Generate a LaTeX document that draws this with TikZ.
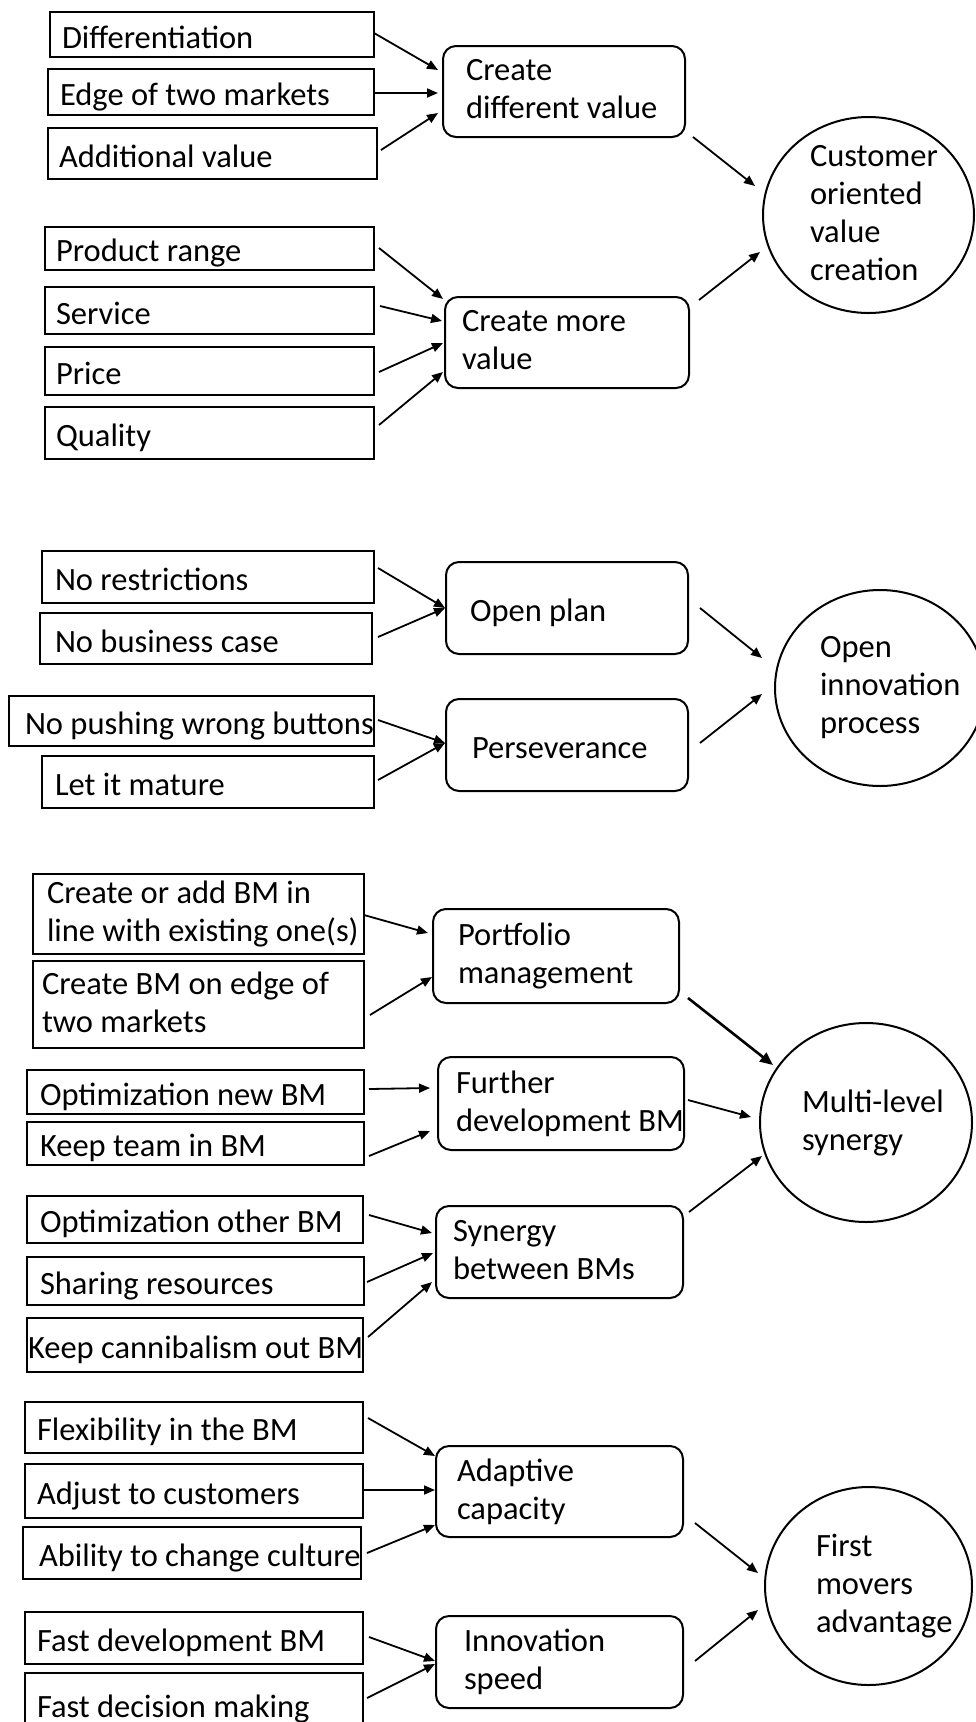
\documentclass[tikz,border=0pt]{standalone}
\usepackage{fontspec}
\setmainfont{Carlito}
\usetikzlibrary{arrows.meta,shapes.geometric}

\newcommand\mybox[6]{%
  \pgfmathsetmacro\mybw{#5-#3}%
  \pgfmathsetmacro\mybh{#6-#4}%
  \node[#1, minimum width=\mybw pt, minimum height=\mybh pt] (#2) at ({(#3+#5)/2},{(#4+#6)/2}) {};}
\newcommand\mytext[4]{\node[txt] (#1) at ([xshift=#3pt]#2.west) {#4};}
\newcommand\mystrut{\rule[-5pt]{0pt}{37pt}}

\begin{document}
\begin{tikzpicture}[x=1pt,y=-1pt,
  rbox/.style={draw, line width=1.9pt, inner sep=0pt, outer sep=0pt},
  rnd/.style={draw, line width=2pt, rounded corners=13pt, inner sep=0pt, outer sep=0pt},
  ell/.style={draw, ellipse, line width=2pt, inner sep=0pt, outer sep=0pt},
  txt/.style={inner sep=0pt, outer sep=0pt, anchor=west, align=left,
    font=\fontsize{32.5}{38}\selectfont,
    execute at begin node=\mystrut, execute at end node=\mystrut},
  arr/.style={line width=1.8pt, -{Triangle[length=11pt,width=9pt]}},
  thickarr/.style={line width=2.6pt, -{Triangle[length=13pt,width=11pt]}}]
\fill[white] (0,0) rectangle (975,1722);
\useasboundingbox (0,0) rectangle (975,1722);

% ---------- Section 1 ----------
\mybox{rbox}{d1}{50}{12}{374}{57}
\mybox{rbox}{d2}{48}{69}{374}{115}
\mybox{rbox}{d3}{48}{128}{377}{179}
\mybox{rbox}{m1}{45}{227}{374}{270}
\mybox{rbox}{m2}{45}{287}{374}{334}
\mybox{rbox}{m3}{45}{347}{374}{395}
\mybox{rbox}{m4}{45}{407}{374}{459}
\mybox{rnd}{D}{443}{46}{685}{137}
\mybox{rnd}{M}{445}{297}{689}{388}
\node[ell, minimum width=211pt, minimum height=196pt] (C1) at (868.5,215) {};

\mytext{d1t}{d1}{12}{Differentiation}
\mytext{d2t}{d2}{12}{Edge of two markets}
\mytext{d3t}{d3}{11}{Additional value}
\mytext{m1t}{m1}{11}{Product range}
\mytext{m2t}{m2}{11}{Service}
\mytext{m3t}{m3}{11}{Price}
\mytext{m4t}{m4}{11}{Quality}
\mytext{Dt}{D}{23}{Create\\different value}
\mytext{Mt}{M}{17}{Create more\\value}
\node[txt] (C1t) at ([xshift=-58.5pt]C1.center) {Customer\\oriented\\value\\creation};

\draw[arr] ([shift={(0,-1.5)}]d1.east) -- ([shift={(-5,-21.5)}]D.west);
\draw[arr] ([shift={(0,1)}]d2.east) -- ([shift={(-5,1.5)}]D.west);
\draw[arr] ([shift={(4,-3.5)}]d3.east) -- ([shift={(-5,21.5)}]D.west);
\draw[arr] ([shift={(5,-0.5)}]m1.east) -- ([shift={(-2,-43.5)}]M.west);
\draw[arr] ([shift={(6,-4.5)}]m2.east) -- ([shift={(-3,-21.5)}]M.west);
\draw[arr] ([shift={(5,1)}]m3.east) -- ([shift={(-2,0.5)}]M.west);
\draw[arr] ([shift={(5,-8)}]m4.east) -- ([shift={(-2,29.5)}]M.west);
\draw[arr] ([shift={(8,45.5)}]D.east) -- ([shift={(-113.5,-29)}]C1.center);
\draw[arr] ([shift={(10,-42.5)}]M.east) -- ([shift={(-108.5,37)}]C1.center);

% ---------- Section 2 ----------
\mybox{rbox}{n1}{42}{551}{374}{603}
\mybox{rbox}{n2}{40}{613}{372}{664}
\mybox{rbox}{n3}{9}{696}{374}{746}
\mybox{rbox}{n4}{42}{756}{374}{808}
\mybox{rnd}{OP}{446}{562}{688}{654}
\mybox{rnd}{PS}{446}{699}{688}{791}
\node[ell, minimum width=210pt, minimum height=196pt] (C2) at (880,688) {};

\mytext{n1t}{n1}{13}{No restrictions}
\mytext{n2t}{n2}{15}{No business case}
\mytext{n3t}{n3}{16}{No pushing wrong buttons}
\mytext{n4t}{n4}{13}{Let it mature}
\mytext{OPt}{OP}{24}{Open plan}
\mytext{PSt}{PS}{26}{Perseverance}
\node[txt] (C2t) at ([xshift=-60pt]C2.center) {Open\\innovation\\process};

\draw[arr] ([shift={(4,-9)}]n1.east) -- ([shift={(-1,0)}]OP.west);
\draw[arr] ([shift={(6,-1.5)}]n2.east) -- ([shift={(-1,0)}]OP.west);
\draw[arr] ([shift={(4,-1)}]n3.east) -- ([shift={(-1,-2)}]PS.west);
\draw[arr] ([shift={(4,-2)}]n4.east) -- ([shift={(-1,-2)}]PS.west);
\draw[arr] ([shift={(12,0)}]OP.east) -- ([shift={(-118,-30)}]C2.center);
\draw[arr] ([shift={(12,-2)}]PS.east) -- ([shift={(-118,6)}]C2.center);

% ---------- Section 3 ----------
\mybox{rbox}{p1}{33}{874}{364}{954}
\mybox{rbox}{p2}{33}{961}{364}{1048}
\mybox{rbox}{f1}{27}{1070}{364}{1114}
\mybox{rbox}{f2}{27}{1122}{364}{1165}
\mybox{rbox}{s1}{27}{1196}{363}{1243}
\mybox{rbox}{s2}{27}{1257}{364}{1305}
\mybox{rbox}{s3}{27}{1318}{363}{1372}
\mybox{rnd}{PM}{433}{909}{679}{1003}
\mybox{rnd}{FD}{438}{1057}{684}{1150}
\mybox{rnd}{SY}{436}{1206}{683}{1298}
\node[ell, minimum width=212pt, minimum height=199pt] (C3) at (866,1122.5) {};

\mytext{p1t}{p1}{14}{Create or add BM in\\line with existing one(s)}
\mytext{p2t}{p2}{9}{Create BM on edge of\\two markets}
\mytext{f1t}{f1}{13}{Optimization new BM}
\mytext{f2t}{f2}{13}{Keep team in BM}
\mytext{s1t}{s1}{13}{Optimization other BM}
\mytext{s2t}{s2}{13}{Sharing resources}
\mytext{s3t}{s3}{1}{Keep cannibalism out BM}
\mytext{PMt}{PM}{25}{Portfolio\\management}
\mytext{FDt}{FD}{18}{Further\\development BM}
\mytext{SYt}{SY}{17}{Synergy\\between BMs}
\node[txt] (C3t) at ([xshift=-64pt]C3.center) {Multi-level\\synergy};

\draw[arr] ([shift={(0,1)}]p1.east) -- ([shift={(-5,-23)}]PM.west);
\draw[arr] ([shift={(6,10.5)}]p2.east) -- ([shift={(-1,21)}]PM.west);
\draw[thickarr] ([shift={(9,42)}]PM.east) -- ([shift={(-93,-57.5)}]C3.center);
\draw[arr] ([shift={(5,-3)}]f1.east) -- ([shift={(-8,-15.5)}]FD.west);
\draw[arr] ([shift={(5,12.5)}]f2.east) -- ([shift={(-8,27.5)}]FD.west);
\draw[arr] ([shift={(4,-3.5)}]FD.east) -- ([shift={(-115,-5.5)}]C3.center);
\draw[arr] ([shift={(6,-40)}]SY.east) -- ([shift={(-104,33.5)}]C3.center);
\draw[arr] ([shift={(6,-4.5)}]s1.east) -- ([shift={(-4,-19)}]SY.west);
\draw[arr] ([shift={(3,1)}]s2.east) -- ([shift={(-3,1)}]SY.west);
\draw[arr] ([shift={(5,-8)}]s3.east) -- ([shift={(-4,30)}]SY.west);

% ---------- Section 4 ----------
\mybox{rbox}{a1}{25}{1402}{363}{1453}
\mybox{rbox}{a2}{25}{1464}{363}{1518}
\mybox{rbox}{a3}{23}{1527}{361}{1579}
\mybox{rbox}{i1}{25}{1612}{363}{1664}
\mybox{rbox}{i2}{25}{1673}{363}{1735}
\mybox{rnd}{AC}{436}{1446}{683}{1537}
\mybox{rnd}{IS}{436}{1616}{683}{1708}
\node[ell, minimum width=207pt, minimum height=198pt] (C4) at (868.5,1586) {};

\mytext{a1t}{a1}{12}{Flexibility in the BM}
\mytext{a2t}{a2}{12}{Adjust to customers}
\mytext{a3t}{a3}{16}{Ability to change culture}
\mytext{i1t}{i1}{12}{Fast development BM}
\mytext{i2t}{i2}{12}{Fast decision making}
\mytext{ACt}{AC}{21}{Adaptive\\capacity}
\mytext{ISt}{IS}{28}{Innovation\\speed}
\node[txt] (C4t) at ([xshift=-52.5pt]C4.center) {First\\movers\\advantage};

\draw[arr] ([shift={(5,-9.5)}]a1.east) -- ([shift={(-1,-35.5)}]AC.west);
\draw[arr] ([shift={(1,-1)}]a2.east) -- ([shift={(-1,-1.5)}]AC.west);
\draw[arr] ([shift={(6,0)}]a3.east) -- ([shift={(-1,33.5)}]AC.west);
\draw[arr] ([shift={(12,31.5)}]AC.east) -- ([shift={(-110.5,-13)}]C4.center);
\draw[arr] ([shift={(12,-1)}]IS.east) -- ([shift={(-110.5,24)}]C4.center);
\draw[arr] ([shift={(6,-1)}]i1.east) -- ([shift={(-1,-1)}]IS.west);
\draw[arr] ([shift={(4,-6)}]i2.east) -- ([shift={(-1,2)}]IS.west);
\end{tikzpicture}
\end{document}
